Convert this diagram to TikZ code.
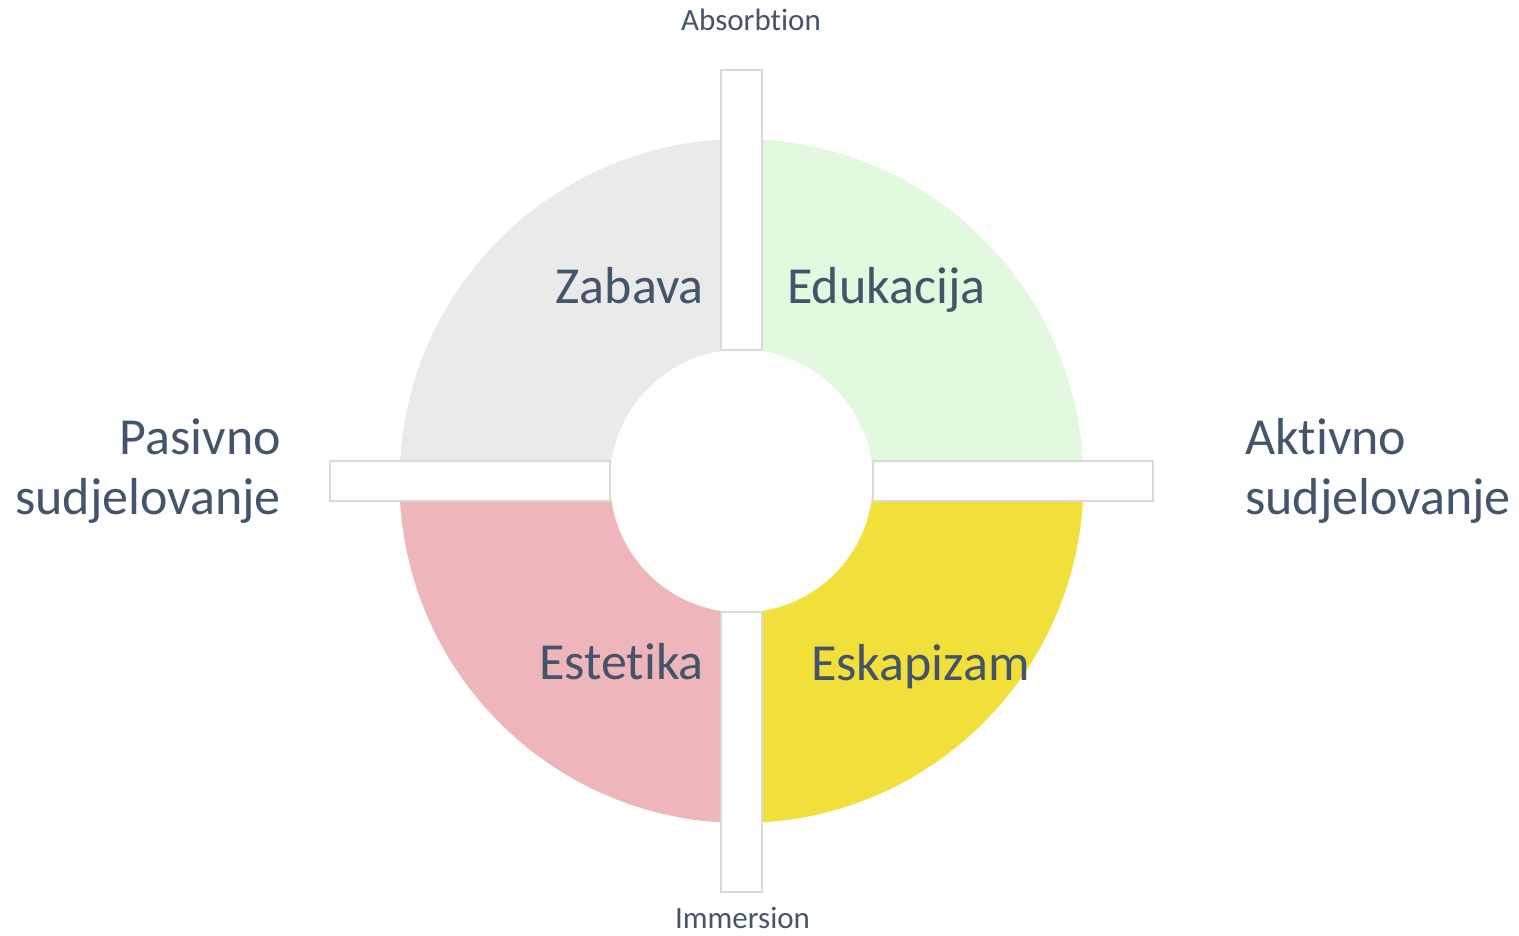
\documentclass[tikz,border=0pt]{standalone}
\usepackage{fontspec}
\setmainfont{Carlito}[Ligatures={NoCommon,NoContextual,NoRare},Contextuals={NoAlternate}]
\usepackage{xcolor}
\usepackage{tikz}
\usetikzlibrary{positioning}
\definecolor{cslate}{HTML}{44546A}
\definecolor{cgrey}{HTML}{EAEAEA}
\definecolor{cmint}{HTML}{E3F9DF}
\definecolor{crose}{HTML}{EEB6BA}
\definecolor{cyell}{HTML}{F2E03A}
\definecolor{cbar}{HTML}{FDFDFD}
\definecolor{cedge}{HTML}{D9D9D9}

\begin{document}
\begin{tikzpicture}[x=1pt,y=-1pt,
  bar/.style={rectangle,draw=cedge,line width=1.2pt,fill=cbar,inner sep=0pt},
  vbar/.style={bar,minimum width=41pt,minimum height=280pt},
  hbar/.style={bar,minimum width=280pt,minimum height=40pt},
  big/.style={font=\fontsize{52}{60}\selectfont,text=cslate,inner sep=0pt},
  small/.style={font=\fontsize{31}{37}\selectfont,text=cslate,inner sep=0pt}]
\useasboundingbox (0,0) rectangle (1519,936);
\coordinate (c) at (741.5,481);
% quadrants
\begin{scope}
  \clip (c) circle (342);
  \fill[cgrey] (c) rectangle ++(-342,-342);
  \fill[cmint] (c) rectangle ++(342,-342);
  \fill[crose] (c) rectangle ++(-342,342);
  \fill[cyell] (c) rectangle ++(342,342);
\end{scope}
\node[circle,fill=cbar,minimum size=263pt,inner sep=0pt] (hub) at (c) {};
\node[vbar] (barN) at (741.5,210) {};
\node[vbar] (barS) at (741.5,752) {};
\node[hbar] (barW) at (470,481) {};
\node[hbar] (barE) at (1013,481) {};
% labels
\node[small,anchor=base] (absorb) at (751,31) {Absorbtion};
\node[small,anchor=base] (immers) at (742.5,928) {Immersion};
\node[big,anchor=base east] (zabava) at (704,304) {Zabava};
\node[big,anchor=base west] (eduk) at (787,304) {Edukacija};
\node[big,anchor=base east] (estet) at (704,679) {Estetika};
\node[big,anchor=base west] (eskap) at (811,680) {Eskapizam};
\node[big,align=right,anchor=east] (pasiv) at (281,471) {Pasivno\\sudjelovanje};
\node[big,align=left,anchor=west] (aktiv) at (1245,471) {Aktivno\\sudjelovanje};
\end{tikzpicture}
\end{document}
